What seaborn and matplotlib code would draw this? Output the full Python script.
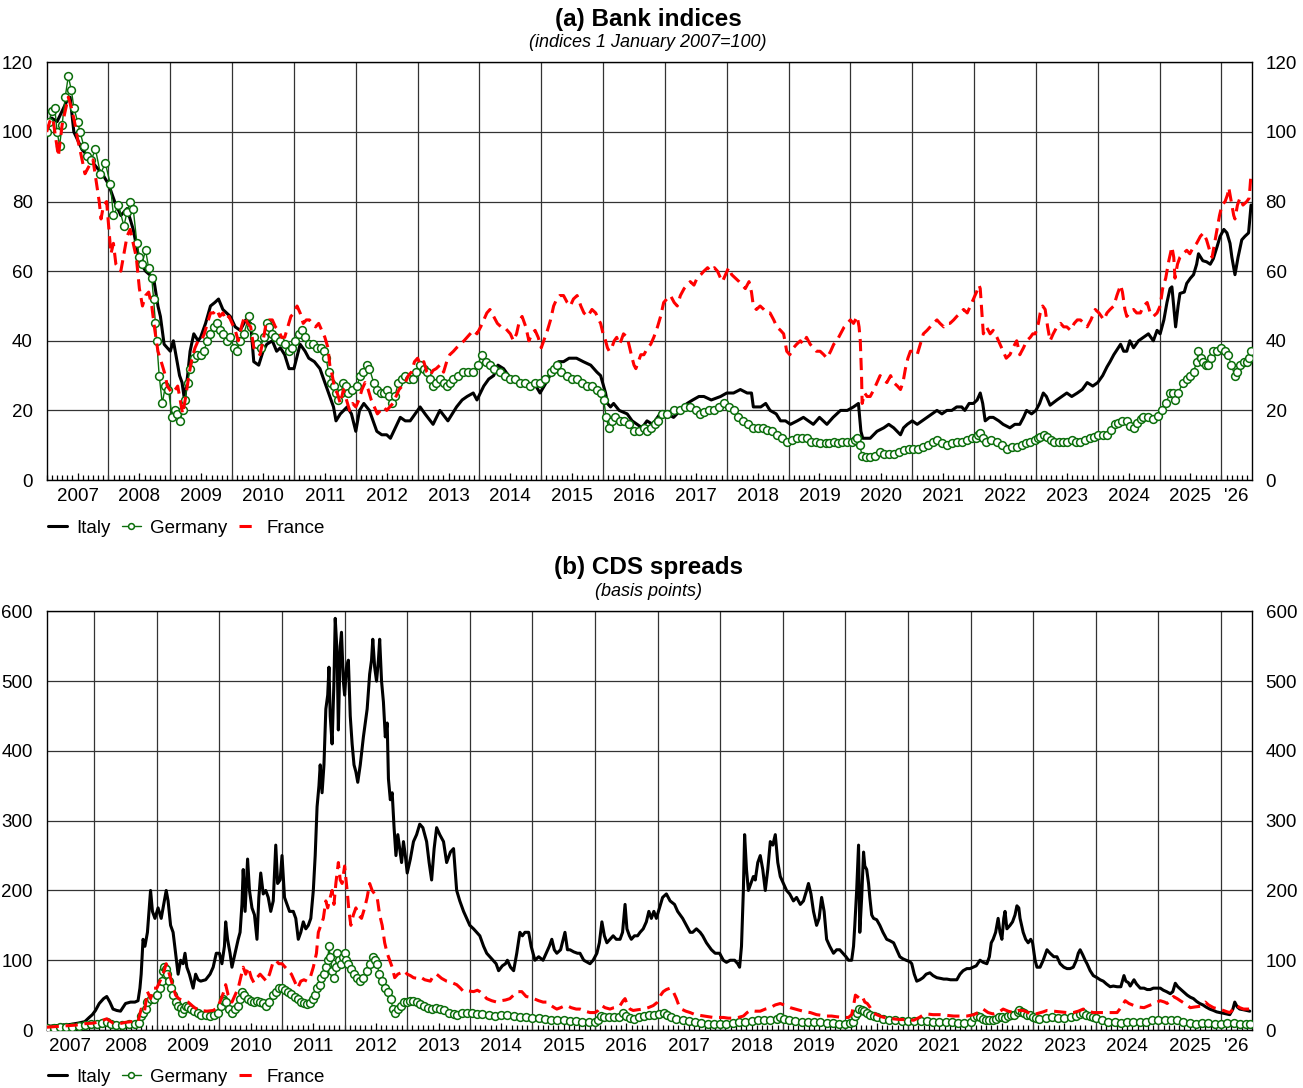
import matplotlib
matplotlib.use("Agg")
import matplotlib.pyplot as plt
import pandas as pd
import seaborn as sns

# ---------------------------------------------------------------------------
# Panel (a): bank share price indices, 1 January 2007 = 100 (time in decimal years)
# ---------------------------------------------------------------------------
italy_index = [
    (2007.00, 100), (2007.08, 104), (2007.17, 103), (2007.25, 106), (2007.33, 109), (2007.38, 110),
    (2007.44, 100), (2007.52, 97), (2007.57, 95), (2007.67, 93), (2007.80, 90), (2007.90, 88),
    (2008.00, 85), (2008.10, 80), (2008.20, 76), (2008.30, 78), (2008.40, 72), (2008.50, 63),
    (2008.60, 60), (2008.73, 58), (2008.80, 50), (2008.84, 47), (2008.90, 39), (2008.95, 38),
    (2009.00, 37), (2009.05, 40), (2009.10, 35), (2009.15, 30), (2009.19, 28), (2009.23, 23),
    (2009.28, 30), (2009.32, 37), (2009.38, 42), (2009.45, 40), (2009.49, 41), (2009.57, 45),
    (2009.65, 50), (2009.72, 51), (2009.78, 52), (2009.85, 49), (2009.97, 47), (2010.05, 44),
    (2010.13, 43), (2010.22, 46), (2010.30, 45), (2010.35, 34), (2010.43, 33), (2010.50, 37),
    (2010.56, 39), (2010.65, 40), (2010.72, 37), (2010.78, 38), (2010.85, 36), (2010.92, 32),
    (2011.00, 32), (2011.10, 39), (2011.18, 37), (2011.24, 35), (2011.33, 34), (2011.42, 32),
    (2011.50, 28), (2011.56, 25), (2011.64, 21), (2011.68, 17), (2011.75, 19), (2011.86, 21),
    (2011.93, 19), (2012.00, 14), (2012.06, 20), (2012.13, 22), (2012.22, 20), (2012.34, 14),
    (2012.42, 13), (2012.50, 13), (2012.56, 12), (2012.64, 15), (2012.72, 18), (2012.80, 17),
    (2012.88, 17), (2012.96, 19), (2013.04, 21), (2013.12, 19), (2013.25, 16), (2013.36, 20),
    (2013.49, 17), (2013.63, 21), (2013.72, 23), (2013.80, 24), (2013.90, 25), (2013.96, 23),
    (2014.07, 27), (2014.15, 29), (2014.23, 30), (2014.30, 33), (2014.39, 32), (2014.47, 30),
    (2014.55, 29), (2014.66, 28), (2014.77, 27), (2014.88, 28), (2014.98, 25), (2015.08, 28),
    (2015.20, 32), (2015.28, 34), (2015.36, 34), (2015.45, 35), (2015.57, 35), (2015.68, 34),
    (2015.80, 33), (2015.90, 31), (2015.96, 30), (2016.04, 25), (2016.07, 22), (2016.12, 21),
    (2016.17, 22), (2016.26, 20), (2016.39, 19), (2016.47, 17), (2016.55, 16), (2016.63, 15),
    (2016.71, 17), (2016.80, 16), (2016.92, 19), (2017.03, 19), (2017.14, 18), (2017.25, 20),
    (2017.36, 22), (2017.45, 23), (2017.55, 24), (2017.63, 24), (2017.75, 23), (2017.90, 24),
    (2018.00, 25), (2018.11, 25), (2018.22, 26), (2018.33, 25), (2018.40, 25), (2018.43, 21),
    (2018.55, 21), (2018.63, 22), (2018.70, 20), (2018.80, 19), (2018.87, 17), (2018.95, 17),
    (2019.03, 16), (2019.14, 17), (2019.24, 18), (2019.32, 17), (2019.40, 16), (2019.50, 18),
    (2019.62, 16), (2019.72, 18), (2019.84, 20), (2019.95, 20), (2020.05, 21), (2020.13, 22),
    (2020.17, 14), (2020.20, 12), (2020.32, 12), (2020.43, 14), (2020.54, 15), (2020.62, 16),
    (2020.70, 15), (2020.81, 13), (2020.86, 15), (2020.92, 16), (2021.00, 17), (2021.08, 16),
    (2021.16, 17), (2021.24, 18), (2021.32, 19), (2021.40, 20), (2021.48, 19), (2021.56, 20),
    (2021.64, 20), (2021.72, 21), (2021.80, 21), (2021.85, 20), (2021.92, 22), (2021.99, 22),
    (2022.05, 23), (2022.10, 25), (2022.14, 22), (2022.18, 17), (2022.25, 18), (2022.31, 18),
    (2022.40, 17), (2022.47, 16), (2022.58, 15), (2022.66, 16), (2022.74, 16), (2022.80, 18),
    (2022.85, 20), (2022.93, 19), (2023.00, 20), (2023.06, 22), (2023.12, 25), (2023.17, 24),
    (2023.23, 21.5), (2023.34, 23), (2023.42, 24), (2023.50, 25), (2023.58, 24), (2023.67, 25),
    (2023.75, 26), (2023.83, 28), (2023.92, 27), (2024.00, 28), (2024.08, 30), (2024.15, 32.5),
    (2024.20, 34), (2024.26, 36), (2024.37, 39), (2024.42, 37), (2024.47, 37), (2024.52, 40),
    (2024.58, 38), (2024.66, 40), (2024.74, 41), (2024.82, 42), (2024.90, 40), (2024.96, 43),
    (2025.01, 42), (2025.07, 46), (2025.12, 51), (2025.17, 55), (2025.20, 55.5), (2025.24, 48),
    (2025.26, 44), (2025.30, 50), (2025.33, 53.6), (2025.40, 54), (2025.44, 56.5), (2025.50, 58),
    (2025.55, 59), (2025.60, 62), (2025.63, 65), (2025.70, 63), (2025.76, 62.7), (2025.82, 62),
    (2025.87, 63.6), (2025.93, 67), (2025.98, 70), (2026.04, 72), (2026.09, 71), (2026.14, 68),
    (2026.17, 64), (2026.22, 59), (2026.27, 64), (2026.33, 69), (2026.38, 70), (2026.44, 71),
    (2026.48, 79),
]

germany_index = [
    (2007.00, 100), (2007.04, 103), (2007.08, 106), (2007.13, 107), (2007.17, 100), (2007.21, 96),
    (2007.25, 102), (2007.30, 110), (2007.35, 116), (2007.40, 112), (2007.44, 107), (2007.50, 103),
    (2007.54, 100), (2007.60, 96), (2007.65, 93), (2007.72, 92), (2007.79, 95), (2007.87, 88),
    (2007.95, 91), (2008.03, 85), (2008.08, 76), (2008.16, 79), (2008.25, 73), (2008.30, 77),
    (2008.35, 80), (2008.40, 78), (2008.46, 68), (2008.50, 64), (2008.54, 62), (2008.60, 66),
    (2008.65, 61), (2008.70, 58), (2008.73, 52), (2008.76, 45), (2008.78, 40), (2008.82, 30),
    (2008.87, 22), (2008.92, 27), (2008.97, 26), (2009.03, 18), (2009.08, 20), (2009.11, 19),
    (2009.16, 17), (2009.20, 20), (2009.24, 23), (2009.28, 28), (2009.32, 32), (2009.38, 35),
    (2009.43, 36), (2009.50, 36), (2009.54, 37), (2009.60, 40), (2009.65, 42), (2009.70, 44),
    (2009.75, 45), (2009.80, 43), (2009.86, 42), (2009.92, 40), (2009.97, 41), (2010.03, 38),
    (2010.08, 37), (2010.13, 40), (2010.19, 42), (2010.27, 47), (2010.31, 44), (2010.35, 41),
    (2010.40, 39), (2010.46, 38), (2010.51, 41), (2010.56, 45), (2010.60, 44), (2010.64, 42),
    (2010.70, 41), (2010.78, 40), (2010.85, 39), (2010.92, 37), (2010.97, 38), (2011.02, 40),
    (2011.08, 42), (2011.13, 43), (2011.18, 41), (2011.24, 39), (2011.30, 39), (2011.37, 38),
    (2011.43, 38), (2011.48, 37), (2011.52, 35), (2011.56, 31), (2011.60, 28), (2011.64, 27),
    (2011.68, 25), (2011.72, 23), (2011.76, 25), (2011.80, 28), (2011.84, 27), (2011.88, 25),
    (2011.94, 26), (2012.02, 27), (2012.07, 30), (2012.12, 31), (2012.18, 33), (2012.22, 32),
    (2012.29, 28), (2012.34, 26), (2012.40, 25), (2012.46, 25), (2012.50, 26), (2012.54, 24),
    (2012.58, 22), (2012.63, 24), (2012.69, 28), (2012.75, 29), (2012.80, 30), (2012.86, 29),
    (2012.93, 29), (2012.98, 31), (2013.04, 33), (2013.10, 32), (2013.15, 31), (2013.20, 29),
    (2013.25, 27), (2013.30, 28), (2013.36, 29), (2013.42, 28), (2013.47, 27), (2013.52, 28),
    (2013.58, 29), (2013.66, 30), (2013.74, 31), (2013.82, 31), (2013.90, 31), (2013.97, 33),
    (2014.04, 36), (2014.10, 34), (2014.17, 33), (2014.24, 32), (2014.34, 31), (2014.42, 30),
    (2014.50, 29), (2014.58, 29), (2014.66, 28), (2014.74, 28), (2014.82, 27), (2014.90, 28),
    (2014.98, 28), (2015.06, 29), (2015.15, 31), (2015.20, 32), (2015.25, 33), (2015.32, 31),
    (2015.42, 30), (2015.50, 29), (2015.58, 29), (2015.66, 28), (2015.74, 27), (2015.82, 27),
    (2015.90, 26), (2015.96, 25), (2016.01, 23), (2016.05, 18), (2016.09, 15), (2016.14, 17),
    (2016.20, 18), (2016.27, 17), (2016.34, 17), (2016.42, 16), (2016.50, 14), (2016.58, 14),
    (2016.66, 15), (2016.71, 14), (2016.78, 15), (2016.84, 16), (2016.88, 17), (2016.95, 19),
    (2017.03, 19), (2017.14, 20), (2017.25, 20), (2017.33, 21), (2017.41, 21), (2017.50, 20),
    (2017.56, 19), (2017.63, 19.5), (2017.71, 20), (2017.79, 20), (2017.87, 21), (2017.95, 22),
    (2018.03, 21), (2018.11, 20), (2018.19, 18), (2018.27, 17), (2018.35, 16), (2018.43, 15),
    (2018.50, 15), (2018.58, 15), (2018.65, 14.5), (2018.73, 14), (2018.81, 13), (2018.89, 12),
    (2018.97, 11), (2019.05, 11.5), (2019.13, 12), (2019.21, 12), (2019.29, 12), (2019.37, 11),
    (2019.44, 11), (2019.51, 10.5), (2019.60, 10.5), (2019.66, 10.5), (2019.73, 11), (2019.80, 10.5),
    (2019.87, 11), (2019.94, 11), (2020.02, 11), (2020.07, 11.5), (2020.11, 12), (2020.15, 10),
    (2020.19, 7), (2020.25, 6.5), (2020.32, 6.5), (2020.40, 7), (2020.48, 8), (2020.55, 7.5),
    (2020.62, 7.5), (2020.70, 7.5), (2020.78, 8), (2020.86, 8.5), (2020.94, 9), (2021.02, 9),
    (2021.10, 9), (2021.18, 9.5), (2021.26, 10), (2021.33, 11), (2021.40, 11.5), (2021.48, 10.5),
    (2021.56, 10), (2021.64, 10.5), (2021.72, 11), (2021.80, 11), (2021.88, 11.5), (2021.96, 12),
    (2022.03, 12), (2022.07, 13), (2022.10, 13.5), (2022.15, 12), (2022.20, 11), (2022.28, 11.5),
    (2022.37, 11), (2022.45, 10), (2022.53, 9), (2022.61, 9.5), (2022.69, 9.5), (2022.77, 10),
    (2022.84, 10.5), (2022.91, 11), (2022.98, 11.5), (2023.03, 12), (2023.07, 12.5), (2023.13, 13),
    (2023.18, 12.5), (2023.24, 11.5), (2023.29, 11), (2023.37, 11), (2023.44, 11), (2023.50, 11),
    (2023.58, 11.5), (2023.65, 11), (2023.72, 11), (2023.80, 11.5), (2023.87, 12), (2023.94, 12.5),
    (2024.01, 13), (2024.08, 13), (2024.15, 13), (2024.22, 14.5), (2024.28, 16), (2024.33, 16.5),
    (2024.40, 17), (2024.47, 17), (2024.53, 15.5), (2024.58, 15), (2024.64, 16.5), (2024.70, 17.5),
    (2024.74, 18), (2024.82, 18), (2024.90, 17.5), (2024.97, 18.5), (2025.04, 20), (2025.10, 22),
    (2025.17, 25), (2025.21, 25), (2025.25, 23), (2025.30, 25), (2025.38, 28), (2025.45, 29),
    (2025.50, 30), (2025.55, 31), (2025.60, 34), (2025.63, 37), (2025.67, 35), (2025.71, 34),
    (2025.75, 33), (2025.79, 33), (2025.83, 35), (2025.87, 37), (2025.93, 37), (2026.00, 38),
    (2026.06, 37), (2026.11, 36), (2026.16, 33), (2026.22, 30), (2026.26, 31), (2026.30, 33),
    (2026.36, 34), (2026.41, 34), (2026.45, 35), (2026.48, 37),
]

france_index = [
    (2007.00, 100), (2007.05, 103), (2007.10, 104), (2007.15, 98), (2007.19, 93), (2007.25, 102),
    (2007.30, 106), (2007.35, 110), (2007.40, 107), (2007.45, 103), (2007.50, 98), (2007.55, 94),
    (2007.62, 88), (2007.68, 90), (2007.75, 92), (2007.80, 86), (2007.85, 80), (2007.88, 75),
    (2007.92, 79), (2007.97, 80), (2008.04, 65), (2008.08, 68), (2008.12, 62), (2008.20, 60),
    (2008.25, 65), (2008.30, 70), (2008.35, 72), (2008.40, 68), (2008.45, 64), (2008.50, 55),
    (2008.55, 50), (2008.60, 53), (2008.65, 54), (2008.70, 50), (2008.75, 43), (2008.80, 37),
    (2008.87, 33), (2008.92, 30), (2008.95, 27), (2009.03, 25), (2009.08, 26), (2009.12, 27),
    (2009.17, 22), (2009.20, 19), (2009.25, 24), (2009.30, 30), (2009.35, 35), (2009.40, 38),
    (2009.45, 40), (2009.50, 40), (2009.55, 42), (2009.60, 45), (2009.65, 48), (2009.70, 48),
    (2009.75, 49), (2009.80, 47), (2009.85, 48), (2009.90, 46), (2009.95, 47), (2010.00, 45),
    (2010.05, 43), (2010.10, 40), (2010.15, 44), (2010.20, 47), (2010.25, 45), (2010.30, 44),
    (2010.35, 38), (2010.40, 37), (2010.45, 36), (2010.50, 40), (2010.55, 45), (2010.60, 46),
    (2010.65, 46), (2010.70, 44), (2010.75, 43), (2010.80, 41), (2010.85, 41), (2010.90, 44),
    (2010.95, 47), (2011.00, 48), (2011.05, 50), (2011.10, 48), (2011.15, 45), (2011.20, 46),
    (2011.25, 46), (2011.30, 45), (2011.35, 44), (2011.40, 45), (2011.45, 43), (2011.50, 41),
    (2011.55, 38), (2011.58, 33), (2011.62, 30), (2011.66, 26), (2011.70, 25), (2011.75, 22),
    (2011.80, 26), (2011.85, 23), (2011.90, 20), (2011.95, 22), (2012.00, 21), (2012.05, 23),
    (2012.10, 26), (2012.15, 28), (2012.20, 26), (2012.25, 23), (2012.30, 21), (2012.35, 19),
    (2012.40, 20), (2012.45, 21), (2012.50, 20), (2012.55, 21), (2012.60, 22), (2012.65, 24),
    (2012.70, 26), (2012.75, 27), (2012.80, 28), (2012.85, 30), (2012.90, 31), (2012.95, 34),
    (2013.00, 35), (2013.05, 33), (2013.10, 34), (2013.15, 31), (2013.20, 30), (2013.25, 31.5),
    (2013.30, 32), (2013.36, 33), (2013.42, 31), (2013.47, 34), (2013.52, 36), (2013.58, 37),
    (2013.63, 38), (2013.69, 39), (2013.75, 40), (2013.80, 41), (2013.85, 42), (2013.90, 43),
    (2013.96, 42), (2014.02, 44), (2014.07, 46), (2014.12, 48), (2014.17, 49), (2014.23, 47),
    (2014.29, 45), (2014.35, 44), (2014.40, 44), (2014.45, 43), (2014.50, 42), (2014.55, 40),
    (2014.60, 42), (2014.65, 46), (2014.69, 47), (2014.75, 44), (2014.80, 40), (2014.85, 42),
    (2014.90, 43), (2014.95, 41), (2015.00, 38), (2015.04, 40), (2015.10, 43), (2015.15, 46),
    (2015.20, 50), (2015.25, 52), (2015.30, 53), (2015.36, 53), (2015.42, 51), (2015.47, 50),
    (2015.52, 52), (2015.58, 53), (2015.64, 50), (2015.69, 48), (2015.75, 47), (2015.82, 49),
    (2015.88, 48), (2015.93, 46), (2015.96, 45), (2016.00, 42), (2016.04, 40), (2016.07, 38),
    (2016.10, 37), (2016.14, 38), (2016.18, 40), (2016.22, 41), (2016.26, 39), (2016.29, 40),
    (2016.33, 42), (2016.39, 41), (2016.43, 38), (2016.47, 35), (2016.50, 33), (2016.53, 32),
    (2016.57, 34), (2016.61, 36), (2016.66, 36), (2016.72, 38), (2016.77, 39), (2016.82, 41),
    (2016.88, 44), (2016.93, 47), (2016.98, 51), (2017.03, 52), (2017.09, 53), (2017.15, 51),
    (2017.20, 50), (2017.25, 53), (2017.31, 55), (2017.36, 56), (2017.41, 57), (2017.47, 56),
    (2017.52, 58), (2017.58, 59), (2017.63, 60), (2017.69, 61), (2017.74, 60), (2017.80, 61),
    (2017.85, 60), (2017.90, 58), (2017.93, 57), (2017.98, 59), (2018.03, 61), (2018.08, 59),
    (2018.14, 58), (2018.20, 57), (2018.25, 56), (2018.30, 55), (2018.36, 57), (2018.40, 54),
    (2018.43, 50), (2018.48, 49), (2018.54, 50), (2018.60, 49), (2018.65, 48), (2018.70, 48),
    (2018.76, 46), (2018.81, 44), (2018.87, 43), (2018.92, 42), (2018.97, 37), (2019.02, 36),
    (2019.08, 38), (2019.13, 39), (2019.19, 40), (2019.24, 39), (2019.29, 41), (2019.35, 39),
    (2019.40, 38), (2019.45, 37), (2019.51, 37), (2019.57, 36), (2019.62, 35), (2019.68, 37),
    (2019.73, 39), (2019.78, 40), (2019.84, 42), (2019.90, 44), (2019.95, 45), (2020.00, 46),
    (2020.05, 45), (2020.11, 47), (2020.14, 44), (2020.16, 40), (2020.18, 30), (2020.19, 22),
    (2020.23, 25), (2020.27, 24), (2020.32, 24), (2020.38, 26), (2020.43, 28), (2020.48, 30),
    (2020.53, 29), (2020.59, 28), (2020.65, 30), (2020.70, 28), (2020.76, 27), (2020.81, 26),
    (2020.85, 28), (2020.89, 32), (2020.93, 35), (2020.97, 37), (2021.02, 37), (2021.08, 36),
    (2021.13, 39), (2021.18, 42), (2021.24, 43), (2021.29, 44), (2021.34, 45), (2021.40, 46),
    (2021.45, 45), (2021.51, 44), (2021.56, 45), (2021.61, 45), (2021.67, 46), (2021.72, 47),
    (2021.78, 48), (2021.83, 49), (2021.89, 48), (2021.94, 50), (2021.99, 52), (2022.04, 54),
    (2022.08, 56), (2022.10, 55), (2022.13, 47), (2022.15, 42), (2022.20, 44), (2022.26, 42),
    (2022.31, 43), (2022.37, 41), (2022.42, 39), (2022.47, 37), (2022.52, 35), (2022.58, 36),
    (2022.63, 38), (2022.69, 40), (2022.74, 36), (2022.80, 38), (2022.85, 40), (2022.91, 41),
    (2022.95, 42), (2022.99, 42), (2023.04, 45), (2023.07, 48), (2023.11, 50), (2023.15, 49),
    (2023.19, 44), (2023.23, 40), (2023.28, 42), (2023.34, 44), (2023.40, 45), (2023.45, 44),
    (2023.50, 44), (2023.56, 43), (2023.62, 45), (2023.67, 46), (2023.72, 46), (2023.78, 45),
    (2023.83, 44), (2023.89, 46), (2023.96, 49), (2024.02, 48), (2024.06, 47), (2024.10, 46),
    (2024.15, 48), (2024.20, 49), (2024.26, 50), (2024.31, 53), (2024.37, 56), (2024.40, 54),
    (2024.44, 49), (2024.47, 47), (2024.52, 48), (2024.58, 49), (2024.63, 48), (2024.69, 48),
    (2024.74, 50), (2024.80, 51), (2024.85, 48), (2024.90, 47), (2024.96, 48), (2025.01, 50),
    (2025.05, 55), (2025.10, 58), (2025.15, 63), (2025.20, 67), (2025.23, 64), (2025.25, 58),
    (2025.29, 62), (2025.33, 64), (2025.38, 65), (2025.44, 66), (2025.49, 65), (2025.55, 67),
    (2025.60, 68), (2025.66, 70), (2025.71, 71), (2025.76, 69), (2025.81, 66), (2025.85, 64),
    (2025.89, 68), (2025.93, 72), (2025.97, 76), (2026.01, 79), (2026.06, 80), (2026.10, 82),
    (2026.12, 84), (2026.16, 80), (2026.20, 76), (2026.22, 75), (2026.26, 79), (2026.30, 81),
    (2026.35, 79), (2026.41, 80), (2026.45, 81), (2026.48, 88),
]

# ---------------------------------------------------------------------------
# Panel (b): bank CDS spreads, basis points
# ---------------------------------------------------------------------------
italy_cds = [
    (2007.24, 5), (2007.35, 6), (2007.50, 7), (2007.62, 8), (2007.75, 10), (2007.85, 12),
    (2007.92, 18), (2007.97, 22), (2008.02, 28), (2008.08, 38), (2008.15, 45), (2008.20, 48),
    (2008.25, 40), (2008.30, 30), (2008.36, 28), (2008.42, 27), (2008.50, 38), (2008.58, 40),
    (2008.65, 40), (2008.70, 42), (2008.73, 60), (2008.75, 80), (2008.78, 130), (2008.81, 120),
    (2008.85, 140), (2008.90, 200), (2008.93, 170), (2008.97, 160), (2009.02, 175), (2009.07, 160),
    (2009.10, 175), (2009.15, 200), (2009.18, 185), (2009.22, 150), (2009.26, 140), (2009.30, 110),
    (2009.34, 80), (2009.38, 100), (2009.42, 95), (2009.45, 110), (2009.48, 90), (2009.52, 80),
    (2009.58, 60), (2009.62, 80), (2009.66, 72), (2009.70, 70), (2009.78, 72), (2009.85, 80),
    (2009.90, 90), (2009.95, 110), (2010.00, 110), (2010.04, 95), (2010.08, 120), (2010.10, 155),
    (2010.13, 130), (2010.17, 110), (2010.20, 90), (2010.25, 110), (2010.30, 130), (2010.33, 140),
    (2010.36, 180), (2010.38, 230), (2010.41, 170), (2010.45, 245), (2010.48, 200), (2010.52, 175),
    (2010.56, 165), (2010.60, 130), (2010.63, 190), (2010.66, 225), (2010.70, 195), (2010.74, 200),
    (2010.78, 190), (2010.82, 170), (2010.86, 185), (2010.90, 265), (2010.93, 210), (2010.97, 215),
    (2011.00, 250), (2011.04, 190), (2011.08, 180), (2011.12, 170), (2011.18, 170), (2011.22, 160),
    (2011.26, 130), (2011.30, 140), (2011.34, 155), (2011.38, 145), (2011.42, 150), (2011.46, 160),
    (2011.50, 200), (2011.53, 250), (2011.56, 320), (2011.59, 350), (2011.61, 380), (2011.64, 340),
    (2011.67, 380), (2011.70, 460), (2011.73, 480), (2011.75, 520), (2011.77, 450), (2011.80, 410),
    (2011.83, 500), (2011.85, 590), (2011.88, 540), (2011.90, 430), (2011.93, 550), (2011.95, 570),
    (2011.98, 500), (2012.00, 480), (2012.03, 520), (2012.06, 530), (2012.09, 450), (2012.12, 410),
    (2012.15, 380), (2012.18, 370), (2012.21, 355), (2012.25, 380), (2012.30, 420), (2012.33, 440),
    (2012.36, 460), (2012.40, 510), (2012.43, 530), (2012.45, 560), (2012.48, 520), (2012.51, 500),
    (2012.54, 530), (2012.56, 560), (2012.59, 500), (2012.62, 470), (2012.65, 420), (2012.68, 440),
    (2012.70, 360), (2012.73, 330), (2012.76, 340), (2012.79, 290), (2012.82, 250), (2012.85, 280),
    (2012.88, 260), (2012.91, 240), (2012.94, 270), (2012.97, 250), (2013.00, 225), (2013.05, 245),
    (2013.10, 270), (2013.15, 280), (2013.20, 295), (2013.25, 290), (2013.31, 270), (2013.35, 240),
    (2013.39, 215), (2013.43, 260), (2013.47, 290), (2013.52, 280), (2013.58, 270), (2013.63, 240),
    (2013.69, 255), (2013.74, 260), (2013.79, 200), (2013.84, 185), (2013.90, 170), (2013.95, 160),
    (2014.00, 150), (2014.06, 145), (2014.11, 140), (2014.16, 135), (2014.22, 120), (2014.27, 110),
    (2014.32, 105), (2014.37, 100), (2014.42, 95), (2014.46, 85), (2014.52, 92), (2014.57, 95),
    (2014.60, 100), (2014.65, 90), (2014.70, 85), (2014.75, 110), (2014.80, 140), (2014.84, 135),
    (2014.88, 140), (2014.94, 140), (2014.98, 120), (2015.04, 100), (2015.10, 105), (2015.17, 100),
    (2015.22, 110), (2015.27, 120), (2015.31, 130), (2015.35, 115), (2015.39, 110), (2015.45, 115),
    (2015.52, 140), (2015.56, 115), (2015.60, 115), (2015.66, 112), (2015.72, 110), (2015.76, 110),
    (2015.82, 100), (2015.88, 97), (2015.92, 95), (2015.97, 100), (2016.03, 110), (2016.07, 125),
    (2016.11, 155), (2016.15, 135), (2016.19, 125), (2016.24, 130), (2016.29, 135), (2016.34, 130),
    (2016.40, 130), (2016.44, 140), (2016.48, 180), (2016.51, 145), (2016.55, 135), (2016.58, 130),
    (2016.63, 135), (2016.68, 135), (2016.72, 140), (2016.77, 145), (2016.82, 155), (2016.86, 170),
    (2016.90, 160), (2016.94, 170), (2016.98, 160), (2017.03, 175), (2017.08, 190), (2017.14, 195),
    (2017.20, 185), (2017.27, 180), (2017.32, 170), (2017.36, 165), (2017.40, 160), (2017.46, 150),
    (2017.52, 140), (2017.56, 140), (2017.62, 145), (2017.68, 140), (2017.72, 135), (2017.78, 125),
    (2017.82, 120), (2017.86, 115), (2017.92, 110), (2017.99, 110), (2018.05, 100), (2018.10, 97),
    (2018.16, 100), (2018.23, 100), (2018.28, 95), (2018.31, 90), (2018.34, 120), (2018.37, 200),
    (2018.39, 280), (2018.42, 230), (2018.45, 200), (2018.49, 210), (2018.53, 220), (2018.56, 215),
    (2018.60, 240), (2018.64, 250), (2018.68, 230), (2018.72, 200), (2018.76, 230), (2018.80, 270),
    (2018.84, 265), (2018.88, 280), (2018.92, 240), (2018.96, 220), (2019.01, 210), (2019.06, 200),
    (2019.11, 195), (2019.17, 185), (2019.22, 190), (2019.28, 180), (2019.33, 185), (2019.38, 200),
    (2019.41, 210), (2019.45, 195), (2019.49, 170), (2019.54, 150), (2019.58, 160), (2019.62, 190),
    (2019.66, 170), (2019.70, 130), (2019.75, 120), (2019.81, 110), (2019.86, 115), (2019.91, 115),
    (2019.96, 110), (2020.01, 105), (2020.05, 100), (2020.10, 100), (2020.13, 120), (2020.15, 150),
    (2020.18, 200), (2020.21, 265), (2020.23, 140), (2020.26, 190), (2020.29, 255), (2020.31, 235),
    (2020.34, 230), (2020.37, 210), (2020.39, 190), (2020.42, 165), (2020.45, 160), (2020.50, 158),
    (2020.55, 150), (2020.60, 140), (2020.66, 130), (2020.71, 128), (2020.77, 125), (2020.82, 115),
    (2020.87, 105), (2020.92, 102), (2020.97, 100), (2021.03, 98), (2021.06, 95), (2021.10, 80),
    (2021.14, 70), (2021.19, 72), (2021.24, 75), (2021.29, 80), (2021.35, 82), (2021.40, 78),
    (2021.46, 75), (2021.52, 74), (2021.57, 73), (2021.62, 73), (2021.68, 72), (2021.74, 72),
    (2021.78, 72), (2021.83, 80), (2021.88, 85), (2021.94, 88), (2021.99, 88), (2022.04, 90),
    (2022.09, 92), (2022.15, 100), (2022.20, 97), (2022.26, 95), (2022.30, 105), (2022.33, 125),
    (2022.36, 130), (2022.40, 140), (2022.44, 160), (2022.47, 140), (2022.50, 130), (2022.53, 160),
    (2022.55, 170), (2022.58, 145), (2022.63, 150), (2022.67, 155), (2022.71, 165), (2022.74, 178),
    (2022.77, 175), (2022.79, 160), (2022.84, 140), (2022.88, 130), (2022.92, 125), (2022.96, 130),
    (2022.99, 125), (2023.03, 100), (2023.06, 90), (2023.11, 90), (2023.16, 100), (2023.22, 115),
    (2023.27, 110), (2023.33, 105), (2023.38, 105), (2023.43, 95), (2023.49, 90), (2023.54, 88),
    (2023.59, 88), (2023.64, 90), (2023.69, 100), (2023.72, 110), (2023.75, 115), (2023.79, 108),
    (2023.83, 100), (2023.86, 95), (2023.91, 85), (2023.96, 78), (2024.02, 75), (2024.07, 72),
    (2024.12, 70), (2024.17, 66), (2024.23, 62), (2024.28, 63), (2024.34, 62), (2024.40, 62),
    (2024.45, 78), (2024.48, 70), (2024.52, 68), (2024.55, 63), (2024.61, 72), (2024.65, 66),
    (2024.71, 60), (2024.77, 60), (2024.82, 58), (2024.87, 58), (2024.92, 60), (2024.98, 60),
    (2025.03, 60), (2025.08, 57), (2025.13, 55), (2025.19, 52), (2025.23, 55), (2025.27, 67),
    (2025.31, 62), (2025.36, 58), (2025.40, 55), (2025.46, 50), (2025.51, 47), (2025.56, 45),
    (2025.61, 41), (2025.66, 38), (2025.71, 36), (2025.76, 33), (2025.82, 30), (2025.88, 28),
    (2025.93, 26), (2025.98, 25), (2026.04, 24), (2026.09, 23), (2026.14, 22), (2026.19, 30),
    (2026.22, 40), (2026.26, 33), (2026.30, 30), (2026.36, 29), (2026.41, 28), (2026.46, 27),
]

germany_cds = [
    (2007.24, 3), (2007.35, 3), (2007.45, 4), (2007.55, 4), (2007.65, 5), (2007.75, 6),
    (2007.85, 7), (2007.95, 8), (2008.05, 8), (2008.12, 10), (2008.20, 12), (2008.27, 9),
    (2008.35, 7), (2008.45, 7), (2008.55, 8), (2008.65, 9), (2008.72, 10), (2008.75, 20),
    (2008.78, 25), (2008.82, 30), (2008.85, 40), (2008.90, 45), (2008.95, 45), (2009.00, 50),
    (2009.05, 60), (2009.08, 70), (2009.10, 85), (2009.12, 90), (2009.15, 88), (2009.17, 80),
    (2009.20, 70), (2009.22, 60), (2009.26, 50), (2009.30, 40), (2009.34, 35), (2009.38, 32),
    (2009.40, 24), (2009.43, 30), (2009.46, 35), (2009.50, 33), (2009.55, 30), (2009.60, 27),
    (2009.65, 24), (2009.70, 22), (2009.78, 21), (2009.85, 20), (2009.92, 22), (2009.97, 25),
    (2010.02, 35), (2010.05, 45), (2010.08, 42), (2010.11, 40), (2010.15, 30), (2010.20, 25),
    (2010.25, 30), (2010.30, 35), (2010.33, 45), (2010.36, 55), (2010.40, 50), (2010.45, 45),
    (2010.50, 42), (2010.55, 40), (2010.60, 42), (2010.65, 40), (2010.70, 38), (2010.75, 35),
    (2010.80, 40), (2010.85, 50), (2010.90, 55), (2010.95, 60), (2011.00, 60), (2011.05, 58),
    (2011.10, 55), (2011.15, 52), (2011.20, 48), (2011.25, 45), (2011.30, 40), (2011.35, 38),
    (2011.40, 37), (2011.45, 38), (2011.50, 45), (2011.53, 50), (2011.56, 60), (2011.60, 65),
    (2011.63, 75), (2011.67, 80), (2011.70, 90), (2011.73, 100), (2011.75, 120), (2011.77, 105),
    (2011.80, 85), (2011.83, 75), (2011.86, 90), (2011.88, 110), (2011.91, 100), (2011.94, 95),
    (2011.97, 105), (2012.00, 110), (2012.03, 100), (2012.06, 95), (2012.10, 88), (2012.15, 80),
    (2012.20, 75), (2012.25, 70), (2012.30, 75), (2012.35, 85), (2012.40, 95), (2012.45, 105),
    (2012.48, 100), (2012.52, 95), (2012.55, 80), (2012.60, 70), (2012.65, 60), (2012.70, 55),
    (2012.74, 45), (2012.77, 30), (2012.80, 25), (2012.85, 30), (2012.90, 35), (2012.95, 40),
    (2013.00, 40), (2013.05, 42), (2013.10, 42), (2013.15, 40), (2013.21, 37), (2013.27, 34),
    (2013.33, 32), (2013.40, 30), (2013.46, 32), (2013.52, 30), (2013.58, 28), (2013.66, 25),
    (2013.74, 23), (2013.80, 22), (2013.88, 24), (2013.96, 25), (2014.04, 24), (2014.12, 23),
    (2014.20, 23), (2014.30, 21), (2014.40, 20), (2014.50, 21), (2014.60, 22), (2014.70, 20),
    (2014.80, 18), (2014.90, 18), (2015.00, 17), (2015.10, 17), (2015.20, 16), (2015.30, 15),
    (2015.40, 15), (2015.50, 14), (2015.60, 13), (2015.70, 13), (2015.80, 12), (2015.90, 12),
    (2016.00, 12), (2016.05, 15), (2016.10, 20), (2016.15, 19), (2016.22, 18), (2016.30, 18),
    (2016.38, 19), (2016.45, 25), (2016.50, 20), (2016.56, 17), (2016.62, 16), (2016.70, 18),
    (2016.78, 20), (2016.86, 21), (2016.95, 22), (2017.03, 23), (2017.10, 24), (2017.15, 21),
    (2017.22, 18), (2017.30, 16), (2017.40, 14), (2017.50, 13), (2017.60, 12), (2017.70, 10),
    (2017.80, 9), (2017.90, 8), (2018.00, 8), (2018.10, 9), (2018.20, 10), (2018.30, 11),
    (2018.40, 12), (2018.50, 13), (2018.60, 14), (2018.70, 14), (2018.80, 15), (2018.90, 16),
    (2018.95, 18), (2019.02, 16), (2019.10, 14), (2019.20, 13), (2019.30, 12), (2019.40, 12),
    (2019.50, 11), (2019.60, 11), (2019.70, 10), (2019.80, 10), (2019.90, 9), (2020.00, 9),
    (2020.08, 10), (2020.12, 12), (2020.15, 20), (2020.18, 25), (2020.22, 30), (2020.26, 28),
    (2020.30, 27), (2020.35, 25), (2020.40, 22), (2020.45, 20), (2020.50, 18), (2020.60, 16),
    (2020.70, 14), (2020.80, 14), (2020.90, 13), (2021.00, 13), (2021.10, 13), (2021.20, 13),
    (2021.30, 13), (2021.40, 12), (2021.50, 12), (2021.60, 11), (2021.70, 11), (2021.80, 10),
    (2021.90, 10), (2022.00, 12), (2022.05, 18), (2022.10, 20), (2022.15, 18), (2022.20, 16),
    (2022.25, 15), (2022.30, 14), (2022.35, 15), (2022.40, 16), (2022.45, 18), (2022.50, 18),
    (2022.55, 17), (2022.60, 20), (2022.65, 21), (2022.70, 22), (2022.75, 26), (2022.78, 28),
    (2022.82, 26), (2022.86, 24), (2022.90, 22), (2022.95, 21), (2023.00, 19), (2023.05, 17),
    (2023.10, 16), (2023.20, 17), (2023.30, 18), (2023.40, 17), (2023.50, 17), (2023.60, 18),
    (2023.68, 20), (2023.75, 23), (2023.80, 25), (2023.85, 22), (2023.90, 20), (2023.95, 18),
    (2024.00, 17), (2024.10, 15), (2024.20, 12), (2024.30, 11), (2024.40, 10), (2024.50, 11),
    (2024.60, 11), (2024.70, 12), (2024.80, 12), (2024.90, 14), (2025.00, 15), (2025.10, 15),
    (2025.20, 14), (2025.30, 14), (2025.40, 12), (2025.50, 10), (2025.60, 9), (2025.70, 10),
    (2025.80, 10), (2025.90, 9), (2026.00, 9), (2026.10, 10), (2026.20, 10), (2026.30, 9),
    (2026.40, 9), (2026.46, 9),
]

france_cds = [
    (2007.24, 4), (2007.40, 5), (2007.55, 6), (2007.70, 7), (2007.85, 9), (2008.00, 10),
    (2008.10, 13), (2008.20, 16), (2008.30, 10), (2008.40, 9), (2008.50, 11), (2008.60, 12),
    (2008.70, 12), (2008.75, 30), (2008.80, 25), (2008.85, 55), (2008.90, 45), (2008.95, 60),
    (2009.00, 60), (2009.05, 70), (2009.10, 80), (2009.15, 95), (2009.20, 80), (2009.25, 65),
    (2009.30, 50), (2009.35, 45), (2009.42, 42), (2009.50, 40), (2009.60, 32), (2009.70, 28),
    (2009.80, 27), (2009.90, 28), (2009.97, 32), (2010.03, 45), (2010.07, 55), (2010.10, 65),
    (2010.14, 50), (2010.20, 40), (2010.25, 50), (2010.30, 60), (2010.34, 75), (2010.38, 90),
    (2010.42, 80), (2010.46, 90), (2010.51, 75), (2010.55, 68), (2010.60, 75), (2010.65, 80),
    (2010.70, 75), (2010.75, 70), (2010.80, 80), (2010.85, 95), (2010.90, 100), (2010.95, 95),
    (2011.00, 95), (2011.05, 90), (2011.10, 85), (2011.15, 80), (2011.20, 70), (2011.25, 60),
    (2011.30, 70), (2011.35, 72), (2011.40, 70), (2011.45, 75), (2011.50, 90), (2011.55, 110),
    (2011.58, 140), (2011.62, 150), (2011.66, 160), (2011.70, 185), (2011.73, 175), (2011.77, 190),
    (2011.80, 200), (2011.83, 180), (2011.86, 210), (2011.90, 240), (2011.93, 215), (2011.96, 210),
    (2012.00, 235), (2012.04, 200), (2012.07, 170), (2012.10, 150), (2012.14, 165), (2012.18, 175),
    (2012.22, 165), (2012.27, 160), (2012.32, 175), (2012.36, 190), (2012.40, 210), (2012.44, 200),
    (2012.48, 195), (2012.52, 190), (2012.56, 165), (2012.60, 150), (2012.64, 125), (2012.68, 110),
    (2012.72, 100), (2012.76, 90), (2012.80, 75), (2012.85, 80), (2012.90, 82), (2012.95, 85),
    (2013.00, 80), (2013.05, 78), (2013.10, 75), (2013.16, 74), (2013.21, 76), (2013.28, 72),
    (2013.37, 70), (2013.42, 78), (2013.47, 80), (2013.55, 74), (2013.63, 70), (2013.71, 68),
    (2013.79, 65), (2013.85, 60), (2013.90, 55), (2013.98, 56), (2014.06, 55), (2014.12, 57),
    (2014.16, 55), (2014.22, 50), (2014.27, 45), (2014.35, 42), (2014.43, 40), (2014.50, 42),
    (2014.57, 43), (2014.64, 45), (2014.70, 50), (2014.76, 55), (2014.83, 55), (2014.90, 48),
    (2014.96, 47), (2015.02, 45), (2015.10, 42), (2015.17, 40), (2015.23, 40), (2015.30, 35),
    (2015.35, 32), (2015.39, 30), (2015.45, 32), (2015.50, 34), (2015.55, 35), (2015.62, 32),
    (2015.70, 30), (2015.76, 30), (2015.84, 27), (2015.92, 25), (2016.00, 25), (2016.05, 28),
    (2016.11, 35), (2016.16, 32), (2016.24, 30), (2016.30, 32), (2016.36, 33), (2016.40, 35),
    (2016.45, 42), (2016.48, 45), (2016.52, 35), (2016.56, 30), (2016.61, 28), (2016.68, 29),
    (2016.77, 30), (2016.85, 32), (2016.93, 35), (2017.00, 40), (2017.05, 50), (2017.09, 55),
    (2017.14, 58), (2017.20, 60), (2017.25, 55), (2017.30, 45), (2017.34, 35), (2017.38, 30),
    (2017.45, 27), (2017.52, 25), (2017.60, 22), (2017.67, 21), (2017.73, 20), (2017.81, 19),
    (2017.89, 18), (2017.97, 18), (2018.05, 18), (2018.13, 17), (2018.21, 17), (2018.29, 18),
    (2018.37, 20), (2018.43, 25), (2018.48, 28), (2018.56, 27), (2018.64, 27), (2018.72, 30),
    (2018.80, 32), (2018.88, 36), (2018.96, 38), (2019.04, 35), (2019.12, 32), (2019.20, 30),
    (2019.28, 28), (2019.36, 26), (2019.44, 25), (2019.54, 22), (2019.62, 21), (2019.70, 20),
    (2019.78, 20), (2019.86, 19), (2019.97, 18), (2020.05, 18), (2020.10, 22), (2020.13, 35),
    (2020.16, 50), (2020.19, 48), (2020.23, 45), (2020.27, 48), (2020.31, 40), (2020.35, 38),
    (2020.39, 33), (2020.44, 25), (2020.50, 22), (2020.58, 19), (2020.66, 17), (2020.76, 16),
    (2020.87, 15), (2020.98, 15), (2021.09, 14), (2021.18, 18), (2021.25, 22), (2021.30, 23),
    (2021.40, 22), (2021.51, 22), (2021.62, 21), (2021.73, 20), (2021.84, 20), (2021.94, 20),
    (2022.05, 22), (2022.12, 25), (2022.20, 30), (2022.28, 25), (2022.36, 23), (2022.44, 25),
    (2022.52, 30), (2022.60, 27), (2022.68, 25), (2022.76, 28), (2022.84, 28), (2022.92, 25),
    (2023.00, 22), (2023.08, 24), (2023.16, 26), (2023.22, 28), (2023.32, 27), (2023.43, 26),
    (2023.54, 25), (2023.64, 25), (2023.72, 27), (2023.80, 30), (2023.88, 27), (2023.96, 25),
    (2024.04, 25), (2024.12, 25), (2024.23, 25), (2024.34, 25), (2024.40, 32), (2024.47, 42),
    (2024.53, 38), (2024.61, 35), (2024.68, 33), (2024.77, 32), (2024.85, 35), (2024.93, 38),
    (2025.03, 42), (2025.10, 40), (2025.14, 38), (2025.20, 43), (2025.24, 48), (2025.30, 45),
    (2025.35, 42), (2025.42, 38), (2025.51, 32), (2025.58, 33), (2025.67, 34), (2025.72, 38),
    (2025.75, 40), (2025.80, 36), (2025.88, 32), (2025.96, 30), (2026.04, 28), (2026.10, 26),
    (2026.14, 25), (2026.20, 30), (2026.25, 35), (2026.30, 32), (2026.36, 30), (2026.42, 30),
    (2026.46, 30),
]

series_names = ["Italy", "Germany", "France"]
index_yticks = [0, 20, 40, 60, 80, 100, 120]
cds_yticks = [0, 100, 200, 300, 400, 500, 600]
index_xrange = (2007.0, 2026.49)
cds_xrange = (2007.24, 2026.49)
index_titles = ("(a) Bank indices", "(indices 1 January 2007=100)")
cds_titles = ("(b) CDS spreads", "(basis points)")

# ---------------------------------------------------------------------------
# Styling
# ---------------------------------------------------------------------------
sns.set_theme(style="white")
plt.rcParams["font.family"] = ["Liberation Sans", "DejaVu Sans"]
plt.rcParams["text.color"] = "black"
plt.rcParams["xtick.color"] = "black"
plt.rcParams["ytick.color"] = "black"
plt.rcParams["axes.labelcolor"] = "black"

GREEN = "#0b6e0b"
styles = {
    "Italy": dict(color="black", linewidth=2.2, zorder=3),
    "Germany": dict(color=GREEN, linewidth=1.0, marker="o", markersize=5.6,
                    markerfacecolor="white", markeredgecolor=GREEN,
                    markeredgewidth=1.1, zorder=4),
    "France": dict(color="#ff0000", linewidth=2.2, linestyle=(0, (4, 2.2)), zorder=5),
}

fig = plt.figure(figsize=(13.03, 10.88), dpi=100)
ax_top = fig.add_axes([0.0358, 0.5588, 0.9248, 0.3839])
ax_bot = fig.add_axes([0.0358, 0.0533, 0.9248, 0.3848])


def to_frame(points):
    return pd.DataFrame(points, columns=["year", "value"])


def draw_panel(ax, data, xrange, yticks):
    for name in series_names:
        sns.lineplot(data=to_frame(data[name]), x="year", y="value", ax=ax,
                     estimator=None, sort=False, label=name, **styles[name])
    ax.set_xlim(*xrange)
    ax.set_ylim(yticks[0], yticks[-1])
    ax.set_xlabel("")
    ax.set_ylabel("")

    # horizontal grid at value ticks, vertical grid at year boundaries
    ax.set_yticks(yticks)
    ax.yaxis.grid(True, color="#333333", linewidth=0.9)
    first_year = int(xrange[0]) + 1
    last_year = int(xrange[1])
    for yr in range(first_year, last_year + 1):
        ax.axvline(yr, color="#333333", linewidth=0.9, zorder=1)

    # year labels centred on the visible part of each year
    label_pos, label_txt = [], []
    for yr in range(int(xrange[0]), last_year + 1):
        lo = max(yr, xrange[0])
        hi = min(yr + 1, xrange[1])
        label_pos.append((lo + hi) / 2)
        label_txt.append(str(yr) if yr < last_year else "'" + str(yr)[2:])
    ax.set_xticks(label_pos)
    ax.set_xticklabels(label_txt)

    # monthly ticks along the bottom, longer ones at mid-year
    months = [yr + m / 12 for yr in range(int(xrange[0]), last_year + 1) for m in range(12)]
    months = [m for m in months if xrange[0] <= m <= xrange[1]]
    ax.set_xticks(months, minor=True)
    ax.tick_params(axis="x", which="minor", direction="in", length=3.5, width=0.9,
                   color="black", bottom=True, top=False)
    ax.tick_params(axis="x", which="major", length=0, pad=6, labelsize=13.5)
    mids = [yr + 0.5 for yr in range(int(xrange[0]), last_year + 1)
            if xrange[0] <= yr + 0.5 <= xrange[1]]
    ax.vlines(mids, 0, 0.017, transform=ax.get_xaxis_transform(),
              color="black", linewidth=0.9, zorder=2)

    ax.tick_params(axis="y", which="both", left=False, right=False,
                   labelleft=True, labelright=True, labelsize=13.5, pad=4)
    for sp in ax.spines.values():
        sp.set_color("black")
        sp.set_linewidth(1.0)
        sp.set_visible(True)
    ax.get_legend().remove()


draw_panel(ax_top, {"Italy": italy_index, "Germany": germany_index, "France": france_index},
           index_xrange, index_yticks)
draw_panel(ax_bot, {"Italy": italy_cds, "Germany": germany_cds, "France": france_cds},
           cds_xrange, cds_yticks)

# titles
for (title, sub), ytitle, ysub in [(index_titles, 0.9825, 0.9612), (cds_titles, 0.4781, 0.4566)]:
    fig.text(0.4975, ytitle, title, ha="center", va="center", fontsize=17.5, fontweight="bold")
    fig.text(0.4975, ysub, sub, ha="center", va="center", fontsize=13, fontstyle="italic")

# legends below each panel
for ax, yleg in [(ax_top, 0.5147), (ax_bot, 0.0101)]:
    handles, labels = ax.get_legend_handles_labels()
    fig.legend(handles, labels, loc="center left", bbox_to_anchor=(0.037, yleg),
               ncol=3, frameon=False, fontsize=13.5, handlelength=1.0,
               handletextpad=0.5, columnspacing=0.6, borderaxespad=0, borderpad=0,
               markerscale=0.75)

fig.savefig("out.png", dpi=100, facecolor="white")
